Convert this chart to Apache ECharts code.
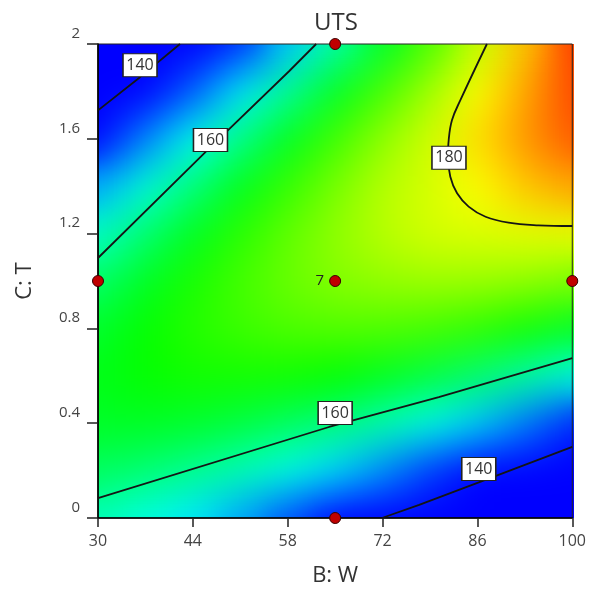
<!DOCTYPE html>
<html><head><meta charset="utf-8">
<script src="https://cdn.jsdelivr.net/npm/echarts@6/dist/echarts.min.js"></script>
<style>
html,body{margin:0;padding:0;background:#fff;width:589px;height:595px;overflow:hidden;}
#clip{position:absolute;left:98px;top:44px;width:476px;height:474px;overflow:hidden;}
.heat{position:absolute;left:-98px;top:-44px;width:700px;height:640px;}
#heatA{filter:blur(8px);}
#heatB{filter:blur(22px);}
#main{position:absolute;left:0;top:0;width:589px;height:595px;}
</style></head>
<body>
<div id="clip"><div id="heatA" class="heat"></div><div id="heatB" class="heat"></div></div>
<div id="main"></div>
<script>
// ---- data ----
const bValues = [30, 37, 44, 51, 58, 65, 72, 79, 86, 93, 100];
const cValues = [0, 0.2, 0.4, 0.6, 0.8, 1.0, 1.2, 1.4, 1.6, 1.8, 2.0];
// UTS estimated at each (C row, B column); rows from C=0 to C=2
const row00 = [158.3, 156.4, 154.1, 151.4, 148.0, 144.0, 140.5, 137.5, 134.3, 130.5, 126.8];
const row02 = [162.6, 161.6, 160.2, 158.4, 156.1, 153.5, 150.5, 147.2, 143.7, 140.0, 136.2];
const row04 = [165.2, 165.3, 164.9, 164.0, 162.6, 160.9, 158.6, 156.0, 153.0, 149.7, 146.2];
const row06 = [165.9, 167.2, 167.9, 168.0, 167.8, 167.0, 165.7, 164.0, 161.8, 159.2, 156.2];
const row08 = [164.9, 167.2, 169.0, 170.3, 171.2, 171.5, 171.3, 170.6, 169.4, 167.7, 165.5];
const row10 = [162.1, 165.4, 168.3, 170.7, 172.7, 174.2, 175.1, 175.6, 175.5, 174.9, 173.7];
const row12 = [157.6, 161.8, 165.6, 169.2, 172.3, 174.9, 177.1, 178.7, 179.0, 179.5, 179.8];
const row14 = [151.7, 156.6, 161.3, 165.8, 169.9, 173.6, 177.0, 178.8, 181.0, 183.5, 185.0];
const row16 = [144.7, 150.2, 155.5, 160.7, 165.7, 170.5, 174.9, 178.6, 182.5, 185.6, 188.2];
const row18 = [137.1, 142.7, 148.5, 154.3, 160.0, 165.6, 170.9, 176.0, 181.0, 185.0, 189.0];
const row20 = [129.4, 134.9, 140.7, 146.7, 152.9, 159.1, 165.2, 171.2, 178.0, 183.5, 189.5];
const utsRows = [row00, row02, row04, row06, row08, row10, row12, row14, row16, row18, row20];

// contour lines (B, C)
const contour140TopB = [30, 36.2, 42.1];
const contour140TopC = [1.72, 1.86, 2.0];
const contour160TopB = [30, 46.6, 58.2, 62.2];
const contour160TopC = [1.097, 1.565, 1.885, 2.0];
const contour180B = [87.4, 83.5, 82.25, 81.76, 81.66, 82.0, 83.0, 84.7, 87.2, 90.6, 95.0, 100];
const contour180C = [2.0, 1.764, 1.679, 1.595, 1.524, 1.44, 1.37, 1.314, 1.271, 1.246, 1.235, 1.232];
const contour160BotB = [30, 64.1, 80.3, 100];
const contour160BotC = [0.084, 0.384, 0.51, 0.675];
const contour140BotB = [71.9, 77.4, 86.2, 100];
const contour140BotC = [0, 0.055, 0.15, 0.30];

const contourLabelB = [36.2, 46.6, 81.8, 65.0, 86.2];
const contourLabelC = [1.91, 1.595, 1.52, 0.443, 0.207];
const contourLabelText = ['140', '160', '180', '160', '140'];

const designB = [65, 30, 65, 100, 65];
const designC = [2, 1, 1, 1, 0];
const centerReplicates = 7;

const xTicks = [30, 44, 58, 72, 86, 100];
const yTicks = [0, 0.4, 0.8, 1.2, 1.6, 2];

// ---- colour scale (style) ----
const colorStops = [[145, [0, 0, 255]], [155, [0, 255, 255]], [167, [0, 255, 0]], [181, [255, 255, 0]], [192, [255, 0, 0]]];
const vMin = 120, vMax = 200;
function colorAt(v) {
  if (v <= colorStops[0][0]) return colorStops[0][1];
  for (let i = 1; i < colorStops.length; i++) {
    if (v <= colorStops[i][0]) {
      const a = colorStops[i - 1], b = colorStops[i];
      const t = (v - a[0]) / (b[0] - a[0]);
      return a[1].map((c, k) => Math.round(c + (b[1][k] - c) * t));
    }
  }
  return colorStops[colorStops.length - 1][1];
}
const colorList = [];
for (let v = vMin; v <= vMax; v++) { const c = colorAt(v); colorList.push('rgb(' + c.join(',') + ')'); }

const heatData = [];
utsRows.forEach((row, j) => row.forEach((v, i) => heatData.push([i, j, v])));

// heatmap layers: cells centred on the sampled B / C values
const plotL = 98, plotT = 44, plotW = 476, plotH = 474;
const cellW = plotW / (bValues.length - 1), cellH = plotH / (cValues.length - 1);
function heatOption() {
  return {
    animation: false,
    grid: {left: plotL - cellW / 2, top: plotT - cellH / 2, width: cellW * bValues.length, height: cellH * cValues.length},
    xAxis: {type: 'category', data: bValues.map(String), show: false},
    yAxis: {type: 'category', data: cValues.map(String), show: false},
    visualMap: {show: false, type: 'continuous', min: vMin, max: vMax, dimension: 2, inRange: {color: colorList}},
    series: [{type: 'heatmap', data: heatData, itemStyle: {borderWidth: 0}}]
  };
}
echarts.init(document.getElementById('heatA')).setOption(heatOption());
echarts.init(document.getElementById('heatB')).setOption(heatOption());

const zip = (xs, ys) => xs.map((x, i) => [x, ys[i]]);
const lineStyle = {color: '#151515', width: 1.8};
function contour(name, xs, ys, smooth) {
  return {type: 'line', name: name, data: zip(xs, ys), showSymbol: false, symbol: 'none', smooth: smooth, lineStyle: lineStyle, z: 3, silent: true};
}
const fontFam = '"Open Sans", "Noto Sans", sans-serif';

const chart = echarts.init(document.getElementById('main'));
chart.setOption({
  animation: false,
  backgroundColor: 'transparent',
  textStyle: {fontFamily: fontFam},
  title: {text: 'UTS', left: 331, textAlign: 'center', top: 6, textStyle: {fontSize: 24, fontWeight: 'normal', color: '#333', fontFamily: fontFam}},
  grid: {left: plotL, top: plotT, width: plotW, height: plotH, show: true, borderColor: '#222', borderWidth: 1, backgroundColor: 'transparent'},
  xAxis: {
    type: 'value', min: xTicks[0], max: xTicks[xTicks.length - 1], interval: xTicks[1] - xTicks[0],
    name: 'B: W', nameLocation: 'middle', nameGap: 47,
    nameTextStyle: {fontSize: 22, color: '#333', fontFamily: fontFam},
    axisLine: {show: true, lineStyle: {color: '#000', width: 1.6}},
    axisTick: {show: true, inside: false, length: 9, lineStyle: {color: '#222', width: 1.5}},
    axisLabel: {fontSize: 16, color: '#444', margin: 15, fontFamily: fontFam},
    splitLine: {show: false}
  },
  yAxis: {
    type: 'value', min: yTicks[0], max: yTicks[yTicks.length - 1], interval: yTicks[1] - yTicks[0],
    name: 'C: T', nameLocation: 'middle', nameGap: 62,
    nameTextStyle: {fontSize: 22, color: '#333', fontFamily: fontFam},
    axisLine: {show: true, lineStyle: {color: '#000', width: 1.6}},
    axisTick: {show: true, inside: false, length: 11, lineStyle: {color: '#222', width: 1.5}},
    axisLabel: {fontSize: 15, color: '#444', margin: 18, verticalAlign: 'bottom', padding: [0, 0, 3, 0], fontFamily: fontFam,
      formatter: v => String(Math.round(v * 10) / 10)},
    splitLine: {show: false}
  },
  series: [
    contour('140a', contour140TopB, contour140TopC, false),
    contour('160a', contour160TopB, contour160TopC, false),
    contour('180', contour180B, contour180C, 0.4),
    contour('160b', contour160BotB, contour160BotC, false),
    contour('140b', contour140BotB, contour140BotC, false),
    {
      type: 'scatter', name: 'labels', z: 5, silent: true,
      data: contourLabelB.map((b, i) => [b, contourLabelC[i], contourLabelText[i]]),
      symbol: 'rect', symbolSize: [34, 23],
      itemStyle: {color: '#fff', opacity: 1, borderColor: '#222', borderWidth: 1.3},
      label: {show: true, position: 'inside', formatter: p => p.value[2], fontSize: 16, color: '#333', fontFamily: fontFam}
    },
    {
      type: 'scatter', name: 'design', z: 6, silent: true, clip: false,
      data: designB.map((b, i) => {
        const item = {value: [b, designC[i]]};
        if (b === 65 && designC[i] === 1) {
          item.label = {show: true, position: 'left', distance: 5, formatter: String(centerReplicates), fontSize: 15, color: '#222', fontFamily: fontFam};
        }
        return item;
      }),
      symbol: 'circle', symbolSize: 11,
      itemStyle: {color: '#c00000', opacity: 1, borderColor: '#3a0000', borderWidth: 1}
    }
  ]
});
</script>
</body></html>
